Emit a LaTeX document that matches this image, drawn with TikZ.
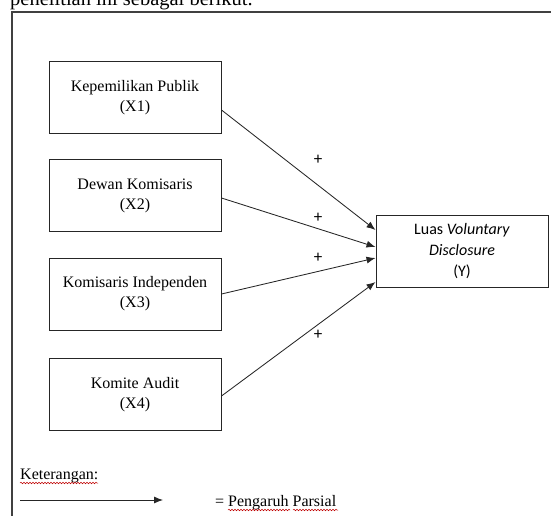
\documentclass[tikz,border=0pt]{standalone}
\usepackage{fontspec}
\setmainfont{Liberation Serif}
\newfontfamily\calibri{Carlito}
\usetikzlibrary{arrows.meta, decorations.pathmorphing}

\begin{document}
\begin{tikzpicture}[x=1pt, y=-1pt,
  varbox/.style={draw=black!85, line width=1pt, minimum width=172pt,
    minimum height=72pt, align=center, font=\fontsize{16}{20}\selectfont},
  effect/.style={-{Latex[length=9pt,width=7pt]}, line width=0.85pt, black!85},
  sign/.style={font=\calibri\fontsize{17}{17}\selectfont, inner sep=0pt},
  squig/.style={red!75!black, line width=0.5pt, decorate,
    decoration={snake, amplitude=0.8pt, segment length=3pt}}]
  \useasboundingbox (0,0) rectangle (551,516);
  % text above the frame, cut off by the page
  \node[anchor=base west, inner sep=0pt, font=\fontsize{20.5}{24}\selectfont] (intro) at (10,5.5) {penelitian ini sebagai berikut.};
  \draw[line width=1.3pt, black!75] (551,12) -- (12,12) -- (12,516);

  % variables
  \node[varbox] (x1) at (135,97.5) {Kepemilikan Publik\\(X1)};
  \node[varbox] (x2) at (135,195.5) {Dewan Komisaris\\(X2)};
  \node[varbox] (x3) at (135,294) {Komisaris Independen\\(X3)};
  \node[varbox] (x4) at (135,394.5) {Komite Audit\\(X4)};
  \node[varbox, font=\calibri\fontsize{16}{21}\selectfont] (y) at (462,251) {Luas \textit{Voluntary}\\\textit{Disclosure}\\(Y)};

  % partial effects
  \draw[effect] ([yshift=-12.5pt]x1.east) -- ([yshift=21pt]y.west);
  \draw[effect] ([yshift=-2.5pt]x2.east) -- ([yshift=4pt]y.west);
  \draw[effect] (x3.east) -- ([yshift=-7pt]y.west);
  \draw[effect] ([yshift=-1.5pt]x4.east) -- ([yshift=-31pt]y.west);
  \node[sign] (s1) at (318,160) {+};
  \node[sign] (s2) at (318,218) {+};
  \node[sign] (s3) at (318,258) {+};
  \node[sign] (s4) at (318,335) {+};

  % legend
  \node[anchor=base west, inner sep=0pt, font=\fontsize{16}{20}\selectfont] (ket) at (20,479) {Keterangan:};
  \coordinate (la) at (20,500);
  \coordinate (lb) at (163,500);
  \draw[effect] (la) -- (lb);
  \node[anchor=base west, inner sep=0pt, font=\fontsize{16}{20}\selectfont] (pp) at (215,506) {= Pengaruh Parsial};
  \draw[squig] (20,483) -- (98,483);
  \draw[squig] (228,510) -- (290,510);
  \draw[squig] (293,510) -- (338,510);
\end{tikzpicture}
\end{document}
